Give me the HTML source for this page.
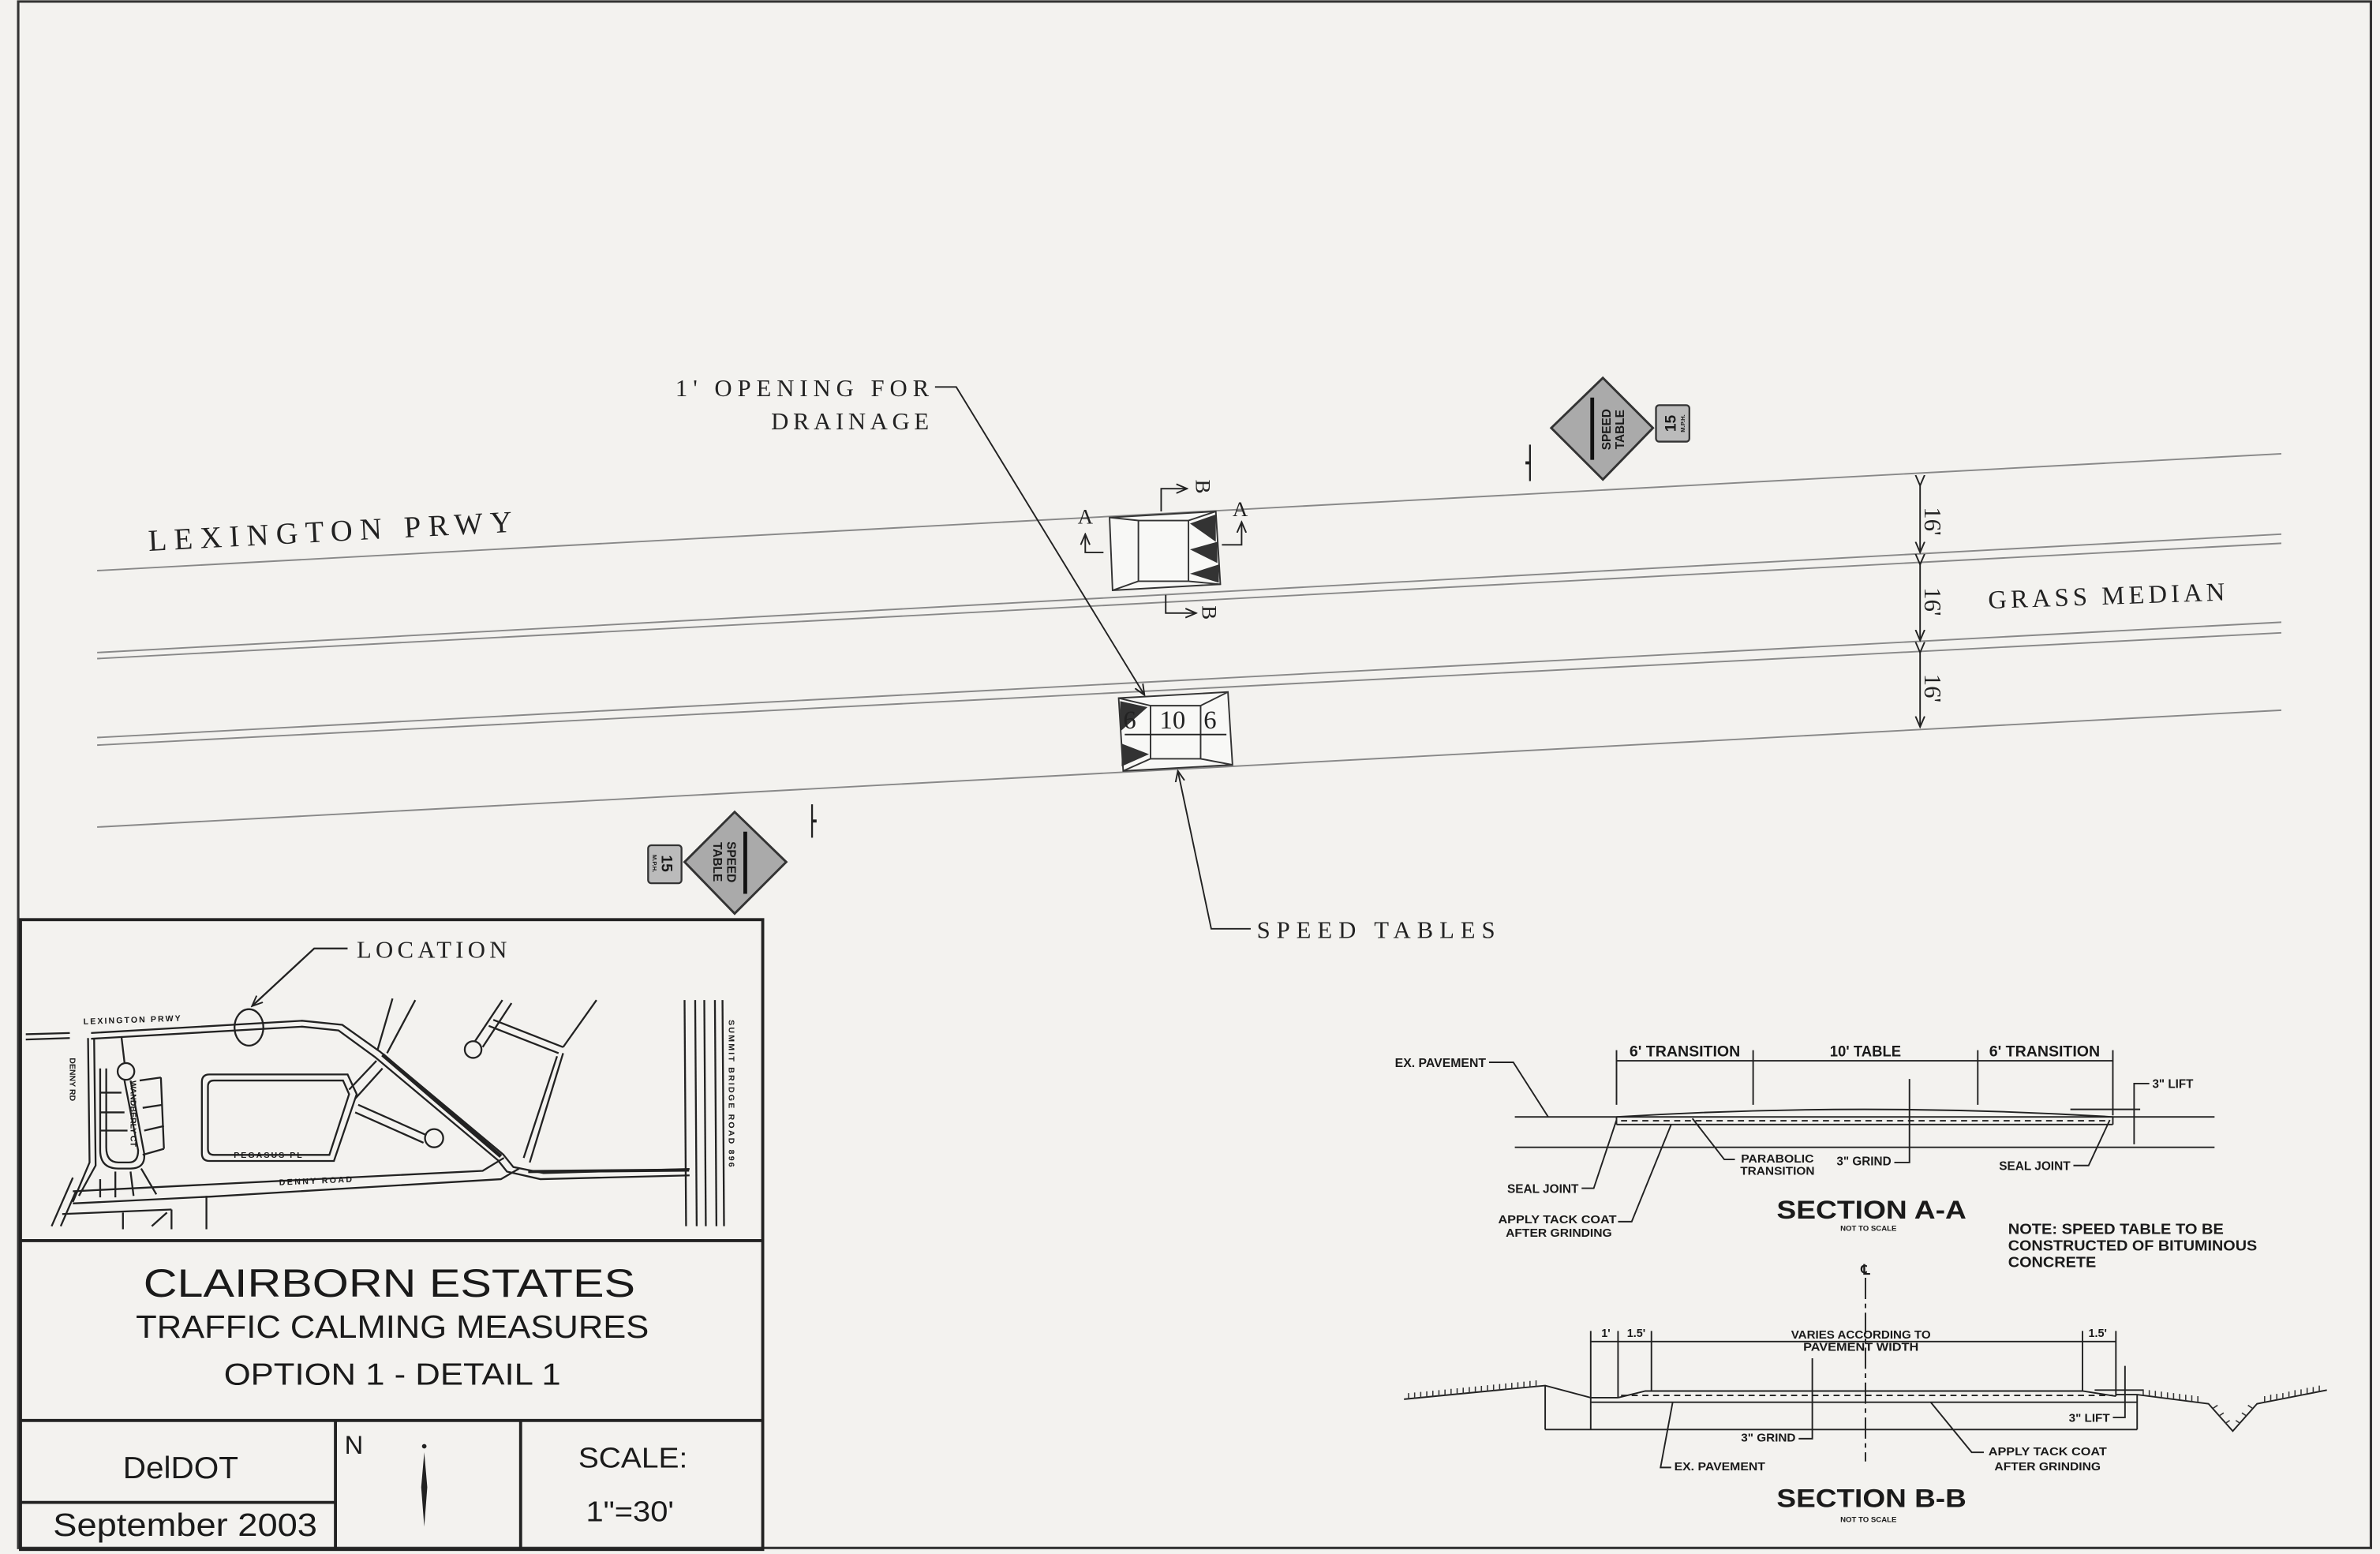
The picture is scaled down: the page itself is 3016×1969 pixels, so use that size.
<!DOCTYPE html>
<html><head><meta charset="utf-8"><style>
html,body{margin:0;padding:0;background:#f3f2ef;}
svg{display:block;}
.s{font-family:"Liberation Serif",serif;fill:#222;}
.a{font-family:"Liberation Sans",sans-serif;fill:#1a1a1a;}
.b{font-family:"Liberation Sans",sans-serif;font-weight:bold;fill:#1a1a1a;}
</style></head><body>
<svg width="3016" height="1969" viewBox="0 0 1568 1024" preserveAspectRatio="none" xmlns="http://www.w3.org/2000/svg">
<defs>
<marker id="ar" markerWidth="8" markerHeight="8" refX="7" refY="4" orient="auto" markerUnits="userSpaceOnUse"><path d="M0,1 L7,4 L0,7" fill="none" stroke="#222" stroke-width="1"/></marker>
</defs>
<rect width="1568" height="1024" fill="#f3f2ef"/>
<rect x="12" y="1" width="1550" height="1019" fill="none" stroke="#333" stroke-width="1.6"/>

<g stroke="#888" stroke-width="1" fill="none">
<line x1="64" y1="376" x2="1503" y2="299"/>
<line x1="64" y1="430" x2="1503" y2="352"/>
<line x1="64" y1="434" x2="1503" y2="358"/>
<line x1="64" y1="486" x2="1503" y2="410"/>
<line x1="64" y1="491" x2="1503" y2="417"/>
<line x1="64" y1="545" x2="1503" y2="468"/>
</g>

<text class="s" x="98" y="363" font-size="20" textLength="240" transform="rotate(-3 98 363)">LEXINGTON PRWY</text>
<text class="s" x="1310" y="401" font-size="17" textLength="156" transform="rotate(-2 1310 401)">GRASS MEDIAN</text>

<g stroke="#222" stroke-width="1">
<line x1="1265" y1="320" x2="1265" y2="364" marker-start="url(#ar)" marker-end="url(#ar)"/>
<line x1="1265" y1="372" x2="1265" y2="422" marker-start="url(#ar)" marker-end="url(#ar)"/>
<line x1="1265" y1="430" x2="1265" y2="479" marker-start="url(#ar)" marker-end="url(#ar)"/>
</g>
<g class="s" font-size="16">
<text x="1268" y="334" transform="rotate(90 1268 334)">16'</text>
<text x="1268" y="387" transform="rotate(90 1268 387)">16'</text>
<text x="1268" y="444" transform="rotate(90 1268 444)">16'</text>
</g>

<g stroke="#333" stroke-width="1" fill="none">
<polygon points="731,341 801,337 804,385 733,389" fill="#f8f8f6"/>
<polyline points="731,341 750,343 750,383 733,389"/>
<polyline points="750,343 783,343 801,337"/>
<polyline points="750,383 783,383 804,385"/>
<line x1="783" y1="343" x2="783" y2="383"/>
</g>
<g fill="#333">
<polygon points="784,345 801,339 801,357"/>
<polygon points="784,362 802,357 802,371"/>
<polygon points="784,378 803,372 803,384"/>
</g>
<g stroke="#222" stroke-width="1" fill="none">
<polyline points="727,364 715,364 715,352" marker-end="url(#ar)"/>
<polyline points="805,359 818,359 818,344" marker-end="url(#ar)"/>
<polyline points="765,337 765,322 782,322" marker-end="url(#ar)"/>
<polyline points="768,392 768,404 788,404" marker-end="url(#ar)"/>
</g>
<text class="s" x="710" y="345" font-size="14">A</text>
<text class="s" x="812" y="340" font-size="14">A</text>
<text class="s" x="788" y="316" font-size="14" transform="rotate(90 788 316)">B</text>
<text class="s" x="792" y="399" font-size="14" transform="rotate(90 792 399)">B</text>

<g stroke="#333" stroke-width="1" fill="none">
<polygon points="737,460 809,456 812,504 740,508" fill="#f8f8f6"/>
<polyline points="737,460 758,465 758,500 740,508"/>
<polyline points="758,465 791,465 809,456"/>
<polyline points="758,500 791,500 812,504"/>
<line x1="791" y1="465" x2="791" y2="500"/>
</g>
<g fill="#333">
<polygon points="738,462 756,466 738,482"/>
<polygon points="739,490 757,497 739,505"/>
</g>
<text class="s" x="740" y="480" font-size="17">6</text>
<text class="s" x="764" y="480" font-size="17">10</text>
<text class="s" x="793" y="480" font-size="17">6</text>
<line x1="741" y1="484" x2="808" y2="484" stroke="#222" stroke-width="1"/>

<g stroke="#222" stroke-width="1" fill="none">
<polyline points="616,255 630,255 754,458" marker-end="url(#ar)"/>
<polyline points="824,612 798,612 776,508" marker-end="url(#ar)"/>
</g>
<text class="s" x="445" y="261" font-size="16" textLength="167">1' OPENING FOR</text>
<text class="s" x="508" y="283" font-size="16" textLength="104">DRAINAGE</text>
<text class="s" x="828" y="618" font-size="16" textLength="157">SPEED TABLES</text>

<g>
<line x1="1008" y1="293" x2="1008" y2="317" stroke="#222" stroke-width="1.2"/>
<rect x="1005" y="304" width="3" height="2" fill="#222"/>
<polygon points="1056,249 1089,282 1056,316 1022,282" fill="#aaa" stroke="#333" stroke-width="1.5"/>
<line x1="1049" y1="262" x2="1049" y2="303" stroke="#111" stroke-width="2.5"/>
<text class="b" x="1061" y="283" font-size="8" text-anchor="middle" transform="rotate(-90 1061 283)">SPEED</text>
<text class="b" x="1070" y="283" font-size="8" text-anchor="middle" transform="rotate(-90 1070 283)">TABLE</text>
<rect x="1091" y="267" width="22" height="24" rx="2" fill="#bbb" stroke="#333" stroke-width="1.2"/>
<text class="b" x="1104" y="279" font-size="10" text-anchor="middle" transform="rotate(-90 1104 279)">15</text>
<text class="b" x="1110" y="279" font-size="4" text-anchor="middle" transform="rotate(-90 1110 279)">M.P.H.</text>
</g>
<g>
<line x1="535" y1="530" x2="535" y2="552" stroke="#222" stroke-width="1.2"/>
<rect x="535" y="540" width="3" height="2" fill="#222"/>
<polygon points="484,535 518,568 484,602 451,568" fill="#aaa" stroke="#333" stroke-width="1.5"/>
<line x1="491" y1="548" x2="491" y2="589" stroke="#111" stroke-width="2.5"/>
<text class="b" x="479" y="568" font-size="8" text-anchor="middle" transform="rotate(90 479 568)">SPEED</text>
<text class="b" x="470" y="568" font-size="8" text-anchor="middle" transform="rotate(90 470 568)">TABLE</text>
<rect x="427" y="557" width="22" height="25" rx="2" fill="#bbb" stroke="#333" stroke-width="1.2"/>
<text class="b" x="436" y="569" font-size="10" text-anchor="middle" transform="rotate(90 436 569)">15</text>
<text class="b" x="430" y="569" font-size="4" text-anchor="middle" transform="rotate(90 430 569)">M.P.H.</text>
</g>

<g stroke="#222" stroke-width="2" fill="none">
<rect x="13.5" y="606" width="489" height="415"/>
<line x1="13.5" y1="817.5" x2="502.5" y2="817.5"/>
<line x1="13.5" y1="936" x2="502.5" y2="936"/>
<line x1="221" y1="936" x2="221" y2="1021"/>
<line x1="343" y1="936" x2="343" y2="1021"/>
<line x1="13.5" y1="990" x2="221" y2="990"/>
</g>
<text class="a" x="94.5" y="854.5" font-size="26" textLength="324" lengthAdjust="spacingAndGlyphs">CLAIRBORN ESTATES</text>
<text class="a" x="89.5" y="881.5" font-size="21" textLength="338" lengthAdjust="spacingAndGlyphs">TRAFFIC CALMING MEASURES</text>
<text class="a" x="147.5" y="912.5" font-size="20" textLength="222" lengthAdjust="spacingAndGlyphs">OPTION 1 - DETAIL 1</text>
<text class="a" x="81" y="974" font-size="20" textLength="76" lengthAdjust="spacingAndGlyphs">DelDOT</text>
<text class="a" x="35" y="1012" font-size="21" textLength="174" lengthAdjust="spacingAndGlyphs">September  2003</text>
<text class="a" x="381" y="967" font-size="19" textLength="72" lengthAdjust="spacingAndGlyphs">SCALE:</text>
<text class="a" x="386" y="1002.5" font-size="19" textLength="58" lengthAdjust="spacingAndGlyphs">1"=30'</text>
<text class="a" x="227" y="958" font-size="17" font-weight="200" fill="#444">N</text>
<circle cx="279.5" cy="953" r="1.5" fill="#222"/>
<polygon points="279.5,957 281.5,980 279.5,1006 277.5,980" fill="#222"/>

<g stroke="#222" stroke-width="1.2" fill="none">
<polyline points="17,681.5 46,680.7"/>
<polyline points="17,685 46,684"/>
<polyline points="60,680.7 199,672.6 225.5,675.3 250.4,693 331.6,760.8 338.2,769 358.1,773 454.3,770.3"/>
<polyline points="60,684.5 199,676.5 223,679 247,696.5 328,764.5 334,772 356,777 454.3,774.5"/>
<polyline points="252,695 330,762" stroke-width="2.5"/>
<polyline points="348,772 454,771" stroke-width="2"/>
<ellipse cx="164" cy="677" rx="9.5" ry="12"/>
<polyline points="229,625 207,625 166,663" marker-end="url(#ar)"/>
<line x1="451" y1="659" x2="452" y2="808"/>
<line x1="458" y1="659" x2="459" y2="808"/>
<line x1="464" y1="659" x2="465" y2="808"/>
<line x1="471" y1="659" x2="472" y2="808"/>
<line x1="476" y1="659" x2="477" y2="808"/>
<polyline points="48,785 318,771.5 332,763"/>
<polyline points="48,793 139,788.5 330,777 342,770"/>
<polyline points="58,684 59,766 48,792"/>
<polyline points="62,684 63,768 52,788"/>
<path d="M66,704 L66,758 Q66,770 78,770 L86,770 Q96,770 95,760 L86,712"/>
<path d="M70,704 L70,756 Q70,766 78,766 L85,766 Q91,766 91,758 L82,712"/>
<circle cx="83" cy="706" r="5.5"/>
<line x1="80" y1="683" x2="82" y2="700"/>
<line x1="92" y1="712" x2="106" y2="710"/>
<line x1="94" y1="730" x2="107" y2="728"/>
<line x1="95" y1="745" x2="108" y2="742"/>
<line x1="106" y1="710" x2="108" y2="757"/>
<line x1="108" y1="757" x2="94" y2="761"/>
<line x1="66" y1="720" x2="80" y2="720"/>
<line x1="66" y1="733" x2="82" y2="733"/>
<line x1="66" y1="745" x2="84" y2="745"/>
<line x1="66" y1="777" x2="66" y2="789"/>
<line x1="76" y1="772" x2="76" y2="789"/>
<line x1="86" y1="772" x2="88" y2="788"/>
<line x1="93" y1="770" x2="103" y2="787"/>
<path d="M138,708 L229,708 L235,721 L220,765 L138,765 Q133,765 133,760 L133,713 Q133,708 138,708 Z"/>
<path d="M141,712 L226,712 L230,721 L217,761 L141,761 Q137,761 137,757 L137,716 Q137,712 141,712 Z"/>
<line x1="258.6" y1="658" x2="248.7" y2="692"/>
<line x1="273.6" y1="659" x2="255" y2="694"/>
<line x1="248" y1="699" x2="230" y2="718"/>
<line x1="252" y1="704" x2="234" y2="724"/>
<line x1="236" y1="728" x2="281" y2="748"/>
<line x1="234" y1="733" x2="279" y2="753"/>
<circle cx="286" cy="750" r="6"/>
<line x1="331" y1="659" x2="313" y2="686"/>
<line x1="337" y1="661" x2="318" y2="690"/>
<circle cx="311.7" cy="691.6" r="5.5"/>
<line x1="322" y1="676" x2="368" y2="694"/>
<line x1="325" y1="672" x2="371" y2="690"/>
<line x1="393" y1="659" x2="371" y2="690"/>
<line x1="367" y1="696" x2="345" y2="763"/>
<line x1="371" y1="694" x2="349" y2="766"/>
<line x1="34" y1="808" x2="48" y2="776"/>
<line x1="40" y1="808" x2="50" y2="785"/>
<line x1="41" y1="800" x2="113" y2="797"/>
<line x1="81" y1="799" x2="81" y2="810"/>
<line x1="113" y1="797" x2="113" y2="810"/>
<line x1="100" y1="808" x2="110" y2="799"/>
<line x1="136" y1="788" x2="136" y2="810"/>
</g>
<text class="s" x="235" y="631" font-size="16" textLength="99">LOCATION</text>
<g class="b" font-size="5.5">
<text x="55" y="675" transform="rotate(-2 55 675)" textLength="64">LEXINGTON PRWY</text>
<text x="46" y="697" transform="rotate(90 46 697)">DENNY RD</text>
<text x="86" y="712" transform="rotate(90 86 712)">WANDBERLY CT</text>
<text x="154" y="763" textLength="45">PEGASUS PL</text>
<text x="184" y="781" transform="rotate(-2.5 184 781)" textLength="48">DENNY ROAD</text>
<text x="480" y="672" transform="rotate(90 480 672)" textLength="97">SUMMIT BRIDGE ROAD 896</text>
</g>

<g stroke="#222" stroke-width="1" fill="none">
<line x1="998" y1="736" x2="1459" y2="736"/>
<line x1="998" y1="756" x2="1459" y2="756"/>
<path d="M1065,736 Q1228,726 1392,736"/>
<line x1="1065" y1="741" x2="1392" y2="741"/>
<line x1="1065" y1="736" x2="1065" y2="741"/>
<line x1="1392" y1="736" x2="1392" y2="741"/>
<line x1="1068" y1="738.5" x2="1389" y2="738.5" stroke-dasharray="4,3"/>
<line x1="1065" y1="699" x2="1392" y2="699"/>
<line x1="1065" y1="692" x2="1065" y2="728"/>
<line x1="1155" y1="692" x2="1155" y2="728"/>
<line x1="1303" y1="692" x2="1303" y2="728"/>
<line x1="1392" y1="692" x2="1392" y2="735"/>
<polyline points="981,700 997,700 1020,736"/>
<polyline points="1416,714 1406,714 1406,754"/>
<line x1="1364" y1="731" x2="1410" y2="731"/>
<polyline points="1248,766 1258,766 1258,711"/>
<polyline points="1143,764 1136,764 1115,737"/>
<polyline points="1042,783 1050,783 1065,738"/>
<polyline points="1066,805 1075,805 1101,741"/>
<polyline points="1366,768 1376,768 1390,738"/>
</g>
<g class="b">
<text x="919" y="703" font-size="8" textLength="60" lengthAdjust="spacingAndGlyphs">EX. PAVEMENT</text>
<text x="1110" y="696" font-size="10" text-anchor="middle" textLength="73" lengthAdjust="spacingAndGlyphs">6' TRANSITION</text>
<text x="1229" y="696" font-size="10" text-anchor="middle" textLength="47" lengthAdjust="spacingAndGlyphs">10' TABLE</text>
<text x="1347" y="696" font-size="10" text-anchor="middle" textLength="73" lengthAdjust="spacingAndGlyphs">6' TRANSITION</text>
<text x="1418" y="717" font-size="8" textLength="27" lengthAdjust="spacingAndGlyphs">3" LIFT</text>
<text x="1210" y="768" font-size="8" textLength="36" lengthAdjust="spacingAndGlyphs">3" GRIND</text>
<text x="1171" y="766" font-size="7.5" text-anchor="middle" textLength="48" lengthAdjust="spacingAndGlyphs">PARABOLIC</text>
<text x="1171" y="774" font-size="7.5" text-anchor="middle" textLength="49" lengthAdjust="spacingAndGlyphs">TRANSITION</text>
<text x="993" y="786" font-size="8" textLength="47" lengthAdjust="spacingAndGlyphs">SEAL JOINT</text>
<text x="1026" y="806" font-size="7.5" text-anchor="middle" textLength="78" lengthAdjust="spacingAndGlyphs">APPLY TACK COAT</text>
<text x="1027" y="815" font-size="7.5" text-anchor="middle" textLength="70" lengthAdjust="spacingAndGlyphs">AFTER GRINDING</text>
<text x="1317" y="771" font-size="8" textLength="47" lengthAdjust="spacingAndGlyphs">SEAL JOINT</text>
<text x="1233" y="803" font-size="17" text-anchor="middle" textLength="125" lengthAdjust="spacingAndGlyphs">SECTION A-A</text>
<text x="1231" y="811" font-size="5" text-anchor="middle">NOT TO SCALE</text>
<text x="1323" y="813" font-size="9.5" textLength="142" lengthAdjust="spacingAndGlyphs">NOTE:  SPEED TABLE TO BE</text>
<text x="1323" y="824" font-size="9.5" textLength="164" lengthAdjust="spacingAndGlyphs">CONSTRUCTED OF BITUMINOUS</text>
<text x="1323" y="835" font-size="9.5" textLength="58" lengthAdjust="spacingAndGlyphs">CONCRETE</text>
</g>

<g stroke="#222" stroke-width="1" fill="none">
<line x1="1229" y1="842" x2="1229" y2="963" stroke-dasharray="14,3,3,3"/>
<line x1="1048" y1="884" x2="1394" y2="884"/>
<line x1="1048" y1="877" x2="1048" y2="921"/>
<line x1="1066" y1="877" x2="1066" y2="921"/>
<line x1="1088" y1="877" x2="1088" y2="917"/>
<line x1="1372" y1="877" x2="1372" y2="917"/>
<line x1="1394" y1="877" x2="1394" y2="920"/>
<polyline points="925,922 1018,913 1048,921 1066,921"/>
<polyline points="1066,921 1084,916.6 1372,916.6 1394,920"/>
<line x1="1068" y1="919.5" x2="1392" y2="919.5" stroke-dasharray="4,3"/>
<line x1="1048" y1="924" x2="1408" y2="924"/>
<line x1="1018" y1="942" x2="1408" y2="942"/>
<line x1="1018" y1="913" x2="1018" y2="942"/>
<line x1="1048" y1="921" x2="1048" y2="942"/>
<line x1="1408" y1="919" x2="1408" y2="942"/>
<polyline points="1394,919 1408,919 1455,925 1471,943 1487,925 1533,916"/>
<polyline points="1392,934 1400,934 1400,900"/>
<line x1="1380" y1="916" x2="1412" y2="916"/>
<polyline points="1185,948 1194,948 1194,895"/>
<polyline points="1101,967 1094,967 1102,924"/>
<polyline points="1307,957 1299,957 1272,924"/>
</g>
<g stroke="#333" stroke-width="0.8">
<path d="M928,922 v-4 M932,921.6 v-4 M936,921.2 v-4 M940,920.8 v-4 M944,920.4 v-4 M948,920 v-4 M952,919.6 v-4 M956,919.2 v-4 M960,918.8 v-4 M964,918.4 v-4 M968,918 v-4 M972,917.6 v-4 M976,917.2 v-4 M980,916.8 v-4 M984,916.4 v-4 M988,916 v-4 M992,915.6 v-4 M996,915.2 v-4 M1000,914.8 v-4 M1004,914.4 v-4 M1008,914 v-4 M1012,913.6 v-4"/>
<path d="M1412,919.5 v-4 M1416,920 v-4 M1420,920.5 v-4 M1424,921 v-4 M1428,921.5 v-4 M1432,922 v-4 M1436,922.5 v-4 M1440,923 v-4 M1444,923.5 v-4 M1448,924 v-4 M1492,924 v-4 M1496,923 v-4 M1500,922.5 v-4 M1504,922 v-4 M1508,921 v-4 M1512,920 v-4 M1516,919.5 v-4 M1520,918.5 v-4 M1524,918 v-4 M1528,917 v-4"/>
<path d="M1458,928 l3,-2 M1462,933 l3,-2 M1466,938 l3,-2 M1476,938 l-3,-2 M1480,933 l-3,-2 M1484,928 l-3,-2"/>
</g>
<g class="b">
<text x="1229" y="840" font-size="9" text-anchor="middle">℄</text>
<text x="1058" y="881" font-size="7.5" text-anchor="middle">1'</text>
<text x="1078" y="881" font-size="7.5" text-anchor="middle">1.5'</text>
<text x="1382" y="881" font-size="7.5" text-anchor="middle">1.5'</text>
<text x="1226" y="882" font-size="7.5" text-anchor="middle" textLength="92" lengthAdjust="spacingAndGlyphs">VARIES ACCORDING TO</text>
<text x="1226" y="890" font-size="7.5" text-anchor="middle" textLength="76" lengthAdjust="spacingAndGlyphs">PAVEMENT WIDTH</text>
<text x="1363" y="937" font-size="7.5" textLength="27" lengthAdjust="spacingAndGlyphs">3" LIFT</text>
<text x="1147" y="950" font-size="7.5" textLength="36" lengthAdjust="spacingAndGlyphs">3" GRIND</text>
<text x="1103" y="969" font-size="7.5" textLength="60" lengthAdjust="spacingAndGlyphs">EX. PAVEMENT</text>
<text x="1349" y="959" font-size="7.5" text-anchor="middle" textLength="78" lengthAdjust="spacingAndGlyphs">APPLY TACK COAT</text>
<text x="1349" y="969" font-size="7.5" text-anchor="middle" textLength="70" lengthAdjust="spacingAndGlyphs">AFTER GRINDING</text>
<text x="1233" y="993" font-size="17" text-anchor="middle" textLength="125" lengthAdjust="spacingAndGlyphs">SECTION B-B</text>
<text x="1231" y="1003" font-size="5" text-anchor="middle">NOT TO SCALE</text>
</g>
</svg>
</body></html>
